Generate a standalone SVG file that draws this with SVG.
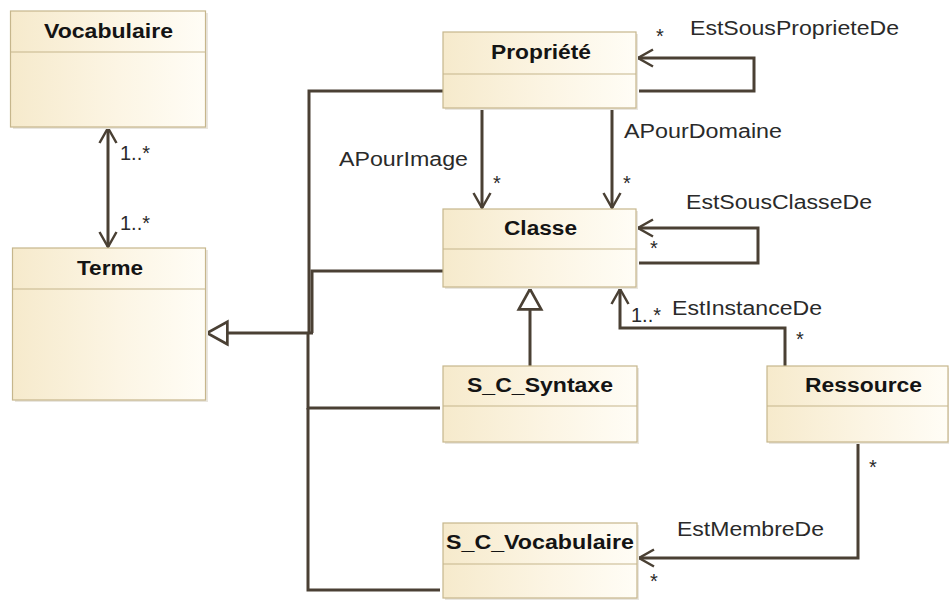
<svg xmlns="http://www.w3.org/2000/svg" width="949" height="610" viewBox="0 0 949 610">
<defs>
<linearGradient id="boxfill" x1="0" y1="0" x2="1" y2="0">
<stop offset="0" stop-color="#f6eacc"/>
<stop offset="0.55" stop-color="#fcf5e4"/>
<stop offset="1" stop-color="#fffdf6"/>
</linearGradient>
<marker id="open" markerUnits="userSpaceOnUse" markerWidth="24" markerHeight="24" viewBox="-18 -12 22 24" refX="0" refY="0" orient="auto">
<path d="M-15,-8.5 L0,0 L-15,8.5" fill="none" stroke="#4a4034" stroke-width="2.5"/>
</marker>
<marker id="openStart" markerUnits="userSpaceOnUse" markerWidth="24" markerHeight="24" viewBox="-4 -12 22 24" refX="0" refY="0" orient="auto">
<path d="M15,-8.5 L0,0 L15,8.5" fill="none" stroke="#4a4034" stroke-width="2.5"/>
</marker>
<marker id="gen" markerUnits="userSpaceOnUse" markerWidth="30" markerHeight="30" viewBox="-24 -14 28 28" refX="0" refY="0" orient="auto">
<path d="M-19,-10.5 L0,0 L-19,10.5 Z" fill="#ffffff" stroke="#4a4034" stroke-width="2.5" stroke-linejoin="miter"/>
</marker>
</defs>
<style>
.box{fill:url(#boxfill);stroke:#c6b68c;stroke-width:1.2}
.shadow{fill:#e9e6df}
.sep{stroke:#c6b68c;stroke-width:1.2}
.title{font-family:"Liberation Sans",Arial,sans-serif;font-size:20px;font-weight:bold;fill:#141414}
.lbl{font-family:"Liberation Sans",Arial,sans-serif;font-size:20px;fill:#2a2a2a}
.conn{fill:none;stroke:#4a4034;stroke-width:3}
</style>
<rect width="949" height="610" fill="#ffffff"/>

<g id="connectors">
<path class="conn" d="M108,128 V247" marker-start="url(#openStart)" marker-end="url(#open)"/>
<path class="conn" d="M443,91 H309 V333"/>
<path class="conn" d="M443,271 H312 V333"/>
<path class="conn" d="M440,408 H308 V333"/>
<path class="conn" d="M440,590 H308 V408"/>
<path class="conn" d="M313,333 H207" marker-end="url(#gen)"/>
<path class="conn" d="M530,366 V289" marker-end="url(#gen)"/>
<path class="conn" d="M639,91 H754 V58 H638" marker-end="url(#open)"/>
<path class="conn" d="M639,263 H758 V228 H638" marker-end="url(#open)"/>
<path class="conn" d="M482,108 V208" marker-end="url(#open)"/>
<path class="conn" d="M612,108 V208" marker-end="url(#open)"/>
<path class="conn" d="M785,366 V328 H620 V289" marker-end="url(#open)"/>
<path class="conn" d="M858,442 V558 H639" marker-end="url(#open)"/>
<text class="lbl" x="120" y="160">1..*</text>
<text class="lbl" x="120" y="230">1..*</text>
<text class="lbl" x="690" y="35" textLength="209" lengthAdjust="spacingAndGlyphs">EstSousProprieteDe</text>
<text class="lbl" x="660" y="43" text-anchor="middle">*</text>
<text class="lbl" x="339" y="166" textLength="129" lengthAdjust="spacingAndGlyphs">APourImage</text>
<text class="lbl" x="497" y="190" text-anchor="middle">*</text>
<text class="lbl" x="624" y="138" textLength="158" lengthAdjust="spacingAndGlyphs">APourDomaine</text>
<text class="lbl" x="627" y="190" text-anchor="middle">*</text>
<text class="lbl" x="686" y="209" textLength="186" lengthAdjust="spacingAndGlyphs">EstSousClasseDe</text>
<text class="lbl" x="654" y="255" text-anchor="middle">*</text>
<text class="lbl" x="631" y="322">1..*</text>
<text class="lbl" x="672" y="315" textLength="150" lengthAdjust="spacingAndGlyphs">EstInstanceDe</text>
<text class="lbl" x="800" y="346" text-anchor="middle">*</text>
<text class="lbl" x="873" y="474" text-anchor="middle">*</text>
<text class="lbl" x="677" y="536" textLength="147" lengthAdjust="spacingAndGlyphs">EstMembreDe</text>
<text class="lbl" x="654" y="588" text-anchor="middle">*</text>
</g>

<g id="vocabulaire">
<rect class="shadow" x="13" y="13" width="195" height="116"/>
<rect class="box" x="10.5" y="11" width="195" height="116"/>
<line class="sep" x1="10.5" y1="52" x2="205.5" y2="52"/>
<text class="title" x="44" y="38" textLength="129" lengthAdjust="spacingAndGlyphs">Vocabulaire</text>
</g>

<g id="terme">
<rect class="shadow" x="15" y="250" width="193" height="152"/>
<rect class="box" x="12.5" y="248" width="193" height="152"/>
<line class="sep" x1="12.5" y1="289" x2="205.5" y2="289"/>
<text class="title" x="77" y="275" textLength="66" lengthAdjust="spacingAndGlyphs">Terme</text>
</g>

<g id="propriete">
<rect class="shadow" x="445" y="34" width="193" height="76"/>
<rect class="box" x="443" y="32" width="193" height="76"/>
<line class="sep" x1="443" y1="74" x2="636" y2="74"/>
<text class="title" x="491" y="59" textLength="100" lengthAdjust="spacingAndGlyphs">Propriété</text>
</g>

<g id="classe">
<rect class="shadow" x="445" y="211" width="193" height="78"/>
<rect class="box" x="443" y="209" width="193" height="78"/>
<line class="sep" x1="443" y1="249" x2="636" y2="249"/>
<text class="title" x="504" y="235" textLength="73" lengthAdjust="spacingAndGlyphs">Classe</text>
</g>

<g id="s_c_syntaxe">
<rect class="shadow" x="445" y="368" width="194" height="76"/>
<rect class="box" x="443" y="366" width="194" height="76"/>
<line class="sep" x1="443" y1="406" x2="637" y2="406"/>
<text class="title" x="467" y="392" textLength="146" lengthAdjust="spacingAndGlyphs">S_C_Syntaxe</text>
</g>

<g id="s_c_vocabulaire">
<rect class="shadow" x="445" y="525" width="194" height="75"/>
<rect class="box" x="443" y="523" width="194" height="75"/>
<line class="sep" x1="443" y1="564" x2="637" y2="564"/>
<text class="title" x="446" y="549" textLength="188" lengthAdjust="spacingAndGlyphs">S_C_Vocabulaire</text>
</g>

<g id="ressource">
<rect class="shadow" x="769" y="368" width="180" height="76"/>
<rect class="box" x="767" y="366" width="181" height="76"/>
<line class="sep" x1="767" y1="406" x2="948" y2="406"/>
<text class="title" x="805" y="392" textLength="117" lengthAdjust="spacingAndGlyphs">Ressource</text>
</g>
</svg>
